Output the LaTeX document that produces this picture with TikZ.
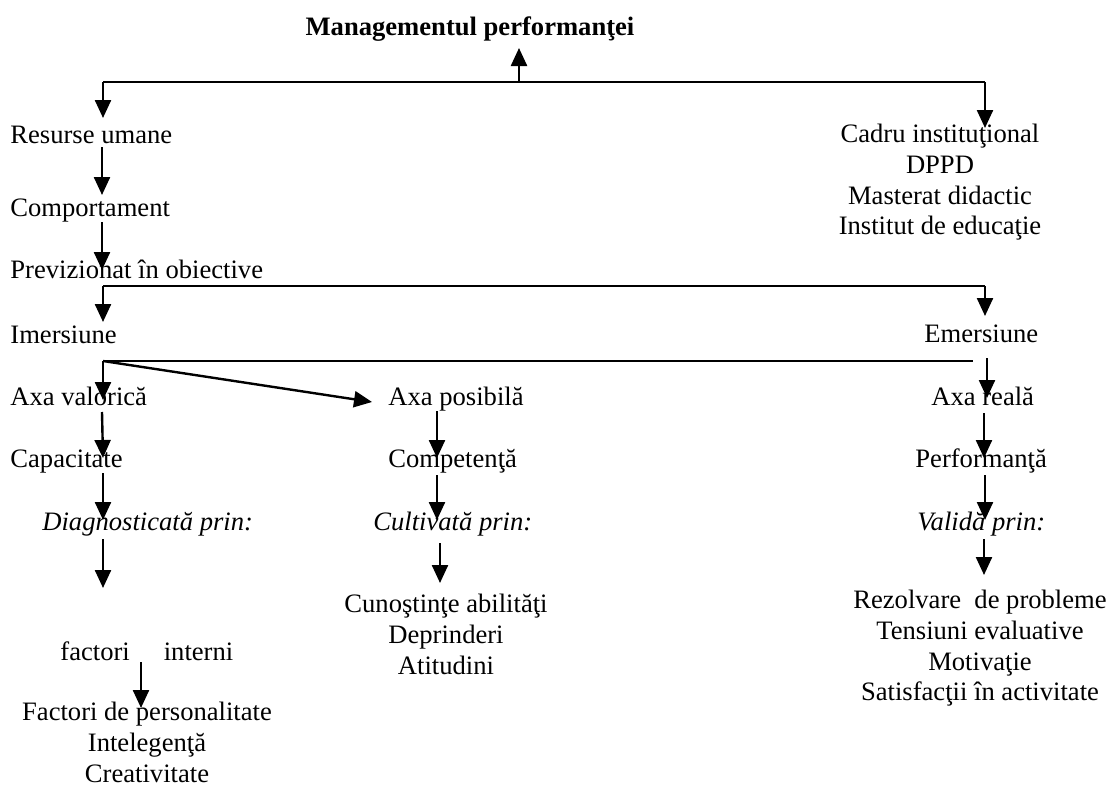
\documentclass[tikz,border=0pt]{standalone}
\usepackage{fontspec}
\setmainfont{Liberation Serif}
\usetikzlibrary{arrows.meta}
\begin{document}
\begin{tikzpicture}[x=0.5pt,y=-0.5pt,
  lbl/.style={inner sep=0pt, font=\fontsize{13.3}{15.3}\selectfont},
  lw/.style={lbl, anchor=base west},
  blk/.style={lbl, align=center, anchor=north},
  arr/.style={line width=1.2pt, -{Triangle[width=8pt,length=9pt]}},
  ln/.style={line width=1pt}]
\useasboundingbox (0,0) rectangle (1110,787);
% nodes
\node[lbl, anchor=base, font=\fontsize{13.3}{15.3}\selectfont\bfseries] (ttl) at (470,35) {Managementul performanţei};
\node[lw] (res) at (10,143) {Resurse umane};
\node[blk] (cad) at (940,124) {Cadru instituţional\\DPPD\\Masterat didactic\\Institut de educaţie};
\node[lw] (comp) at (10,216) {Comportament};
\node[lw] (prev) at (10,278) {Previzionat în obiective};
\node[lw] (imr) at (10,343) {Imersiune};
\node[lw] (emr) at (924,342) {Emersiune};
\node[lw] (axv) at (10,405) {Axa valorică};
\node[lw] (axp) at (388,405) {Axa posibilă};
\node[lw] (axr) at (931,405) {Axa reală};
\node[lw] (cap) at (10,467) {Capacitate};
\node[lw] (cpt) at (388,467) {Competenţă};
\node[lw] (prf) at (915,467) {Performanţă};
\node[lw, font=\fontsize{13.3}{15.3}\selectfont\itshape] (dia) at (42,530) {Diagnosticată prin:};
\node[lw, font=\fontsize{13.3}{15.3}\selectfont\itshape] (cul) at (373,530) {Cultivată prin:};
\node[lw, font=\fontsize{13.3}{15.3}\selectfont\itshape] (val) at (917,530) {Validă prin:};
\node[blk] (cun) at (446,594) {Cunoştinţe abilităţi\\Deprinderi\\Atitudini};
\node[blk] (rez) at (980,590) {Rezolvare\ \ de probleme\\Tensiuni evaluative\\Motivaţie\\Satisfacţii în activitate};
\node[lw] (fi) at (60,660) {factori\hspace{17pt}interni};
\node[blk] (fp) at (147,702) {Factori de personalitate\\Intelegenţă\\Creativitate};
% junction coordinates
\coordinate (j0) at (519,82);
\coordinate (jl) at (103,82);
\coordinate (jr) at (985,82);
\coordinate (p1) at (103,286);
\coordinate (p2) at (985,286);
\coordinate (q1) at (103,361);
\coordinate (q2) at (973,361);
% connectors
\draw[ln] (jl) -- (jr);
\draw[arr] (j0) -- (519,48);
\draw[arr] (jl) -- (103,118);
\draw[arr] (jr) -- (985,128);
\draw[arr] (102,147) -- (102,195);
\draw[arr] (102,222) -- (102,270);
\draw[ln] (p1) -- (p2);
\draw[arr] (p1) -- (103,322);
\draw[arr] (p2) -- (985,316);
\draw[ln] (q1) -- (q2);
\draw[arr] (q1) -- (103,400);
\draw[arr] (q1) -- (372,402);
\draw[arr] (987,358) -- (987,398);
\draw[arr] (102,412) -- (103,458);
\draw[arr] (437,411) -- (437,458);
\draw[arr] (984,413) -- (984,458);
\draw[arr] (103,473) -- (103,520);
\draw[arr] (437,475) -- (437,520);
\draw[arr] (985,475) -- (985,520);
\draw[arr] (103,539) -- (103,588);
\draw[arr] (440,543) -- (440,583);
\draw[arr] (984,539) -- (984,575);
\draw[arr] (141,662) -- (141,708);
\end{tikzpicture}
\end{document}
